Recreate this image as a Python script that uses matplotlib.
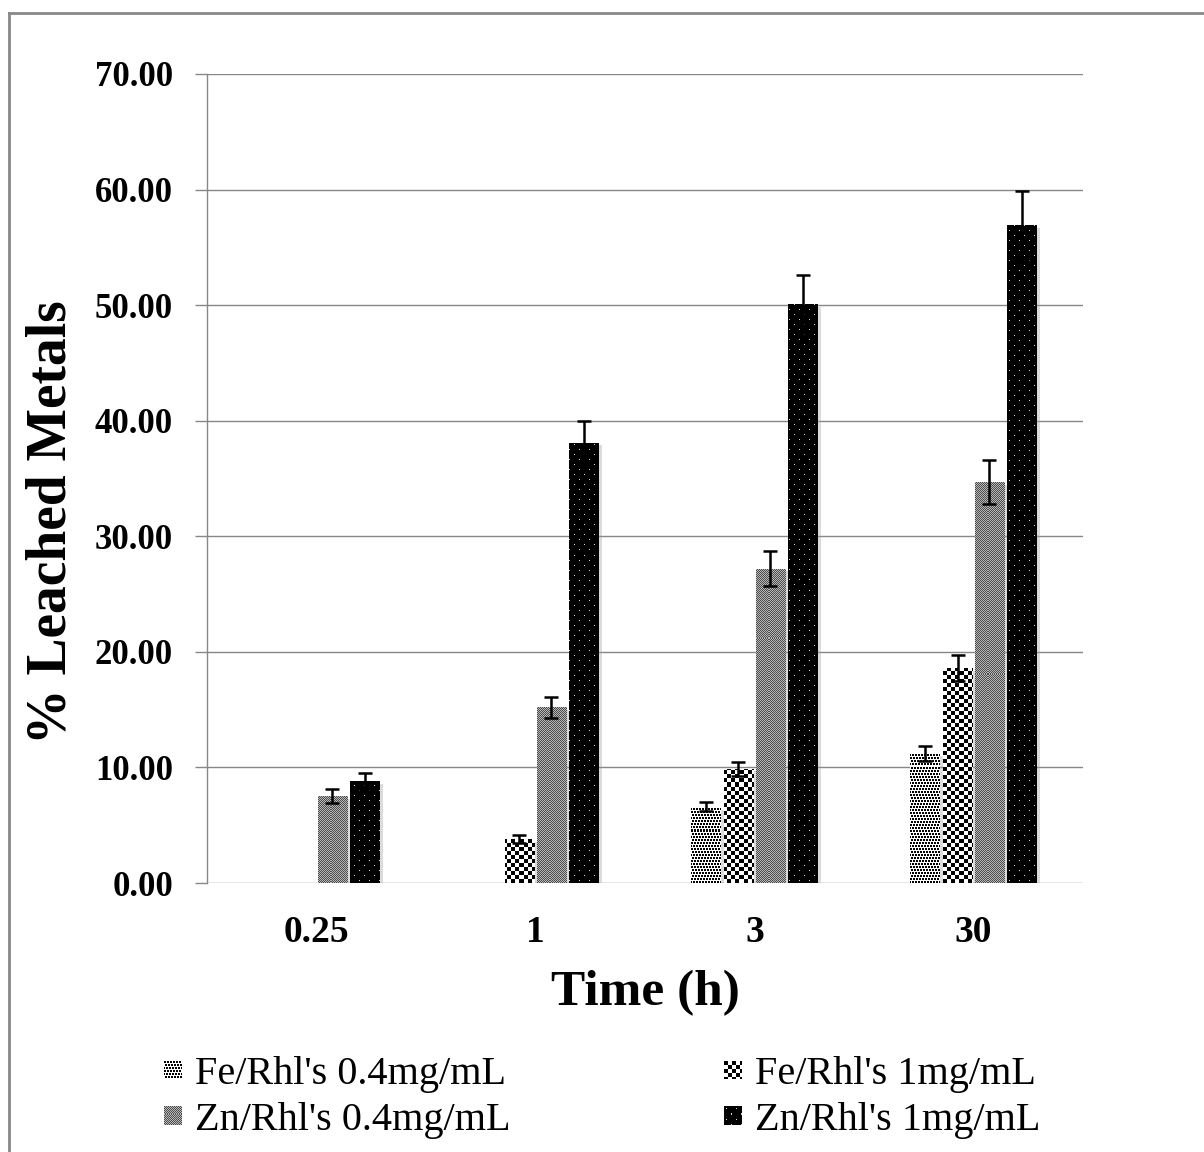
import matplotlib
matplotlib.use('Agg')
import matplotlib.pyplot as plt
import matplotlib.patheffects as pe
from matplotlib.patches import Rectangle
from matplotlib.lines import Line2D
from matplotlib.legend_handler import HandlerBase
import numpy as np

plt.rcParams['font.family'] = ['Liberation Serif', 'DejaVu Serif']

times = ['0.25', '1', '3', '30']
series = ["Fe/Rhl's 0.4mg/mL", "Fe/Rhl's 1mg/mL", "Zn/Rhl's 0.4mg/mL", "Zn/Rhl's 1mg/mL"]
fe_04 = [0.0, 0.0, 6.6, 11.2]
fe_1 = [0.0, 3.8, 9.9, 18.6]
zn_04 = [7.5, 15.2, 27.2, 34.7]
zn_1 = [8.8, 38.1, 50.1, 56.9]
fe_04_err = [0.0, 0.0, 0.4, 0.65]
fe_1_err = [0.0, 0.35, 0.6, 1.1]
zn_04_err = [0.6, 0.9, 1.5, 1.9]
zn_1_err = [0.7, 1.9, 2.5, 3.0]
yticks = [0, 10, 20, 30, 40, 50, 60, 70]

values = [fe_04, fe_1, zn_04, zn_1]
errors = [fe_04_err, fe_1_err, zn_04_err, zn_1_err]
textures = ['dots', 'checker', 'fine', 'stars']


def make_texture(kind, h, w):
    ii, jj = np.indices((h, w))
    if kind == 'dots':
        # 2x2 dots on a 3px grid, rows nudged to look scattered
        shifts = np.array([0, 2, 1, 0, 1, 2])
        jj2 = jj + shifts[(ii // 3) % 6]
        return np.where((ii % 3 < 2) & (jj2 % 3 < 2), 0.0, 1.0)
    if kind == 'checker':
        return np.where(((ii // 4) + (jj // 4)) % 2 == 0, 0.0, 1.0)
    if kind == 'fine':
        return np.where((ii + jj) % 2 == 0, 0.3, 0.72)
    # black with small white dots
    t = np.zeros((h, w))
    t[(ii % 10 == 2) & (jj % 10 == 2)] = 0.85
    t[(ii % 10 == 7) & (jj % 10 == 7)] = 0.85
    return t


class HandlerTexture(HandlerBase):
    # legend key drawn as a tiny pixel grid of the same texture
    def __init__(self, kind, npx=18):
        super().__init__()
        self.kind = kind
        self.npx = npx

    def create_artists(self, legend, orig_handle, xdescent, ydescent, width, height,
                       fontsize, trans):
        tex = make_texture(self.kind, self.npx, self.npx)
        size = min(width, height)
        cell = size / self.npx
        x0 = -xdescent + (width - size) / 2
        y0 = -ydescent + (height - size) / 2
        arts = []
        for r in range(self.npx):
            for c in range(self.npx):
                g = tex[r, c]
                arts.append(Rectangle((x0 + c * cell, y0 + (self.npx - 1 - r) * cell), cell, cell,
                                      facecolor=(g, g, g), edgecolor='none',
                                      antialiased=False, transform=trans))
        return arts


fig = plt.figure(figsize=(12.04, 11.52), dpi=100)
ax_left, ax_bottom, ax_w, ax_h = 0.1719, 0.2335, 0.7276, 0.7023
ax = fig.add_axes([ax_left, ax_bottom, ax_w, ax_h])

# pixel size of the axes, so the fill patterns come out 1:1
px_w = int(round(ax_w * 1204))
px_h = int(round(ax_h * 1152))

x = np.arange(len(times))
width = 0.136
offsets = [-0.221, -0.073, 0.073, 0.221]
xlim = (-0.5, len(times) - 0.5)
ylim = (0, 70)

shadow = [pe.SimplePatchShadow(offset=(2.5, -2), shadow_rgbFace='#9a9a9a', alpha=0.35), pe.Normal()]

for vals, errs, off, tex in zip(values, errors, offsets, textures):
    bars = ax.bar(x + off, vals, width, facecolor='none', edgecolor='none',
                  zorder=2, path_effects=shadow)
    img = make_texture(tex, px_h, px_w)
    for b, v in zip(bars, vals):
        if v <= 0:
            continue
        im = ax.imshow(img, extent=(xlim[0], xlim[1], ylim[0], ylim[1]), origin='lower',
                       cmap='gray', vmin=0, vmax=1, interpolation='nearest',
                       aspect='auto', zorder=2.5)
        im.set_clip_path(b)
    vals_a = np.array(vals)
    errs_a = np.array(errs)
    m = vals_a > 0
    ax.errorbar((x + off)[m], vals_a[m], yerr=errs_a[m], fmt='none', ecolor='black',
                elinewidth=1.8, capsize=5, capthick=1.8, zorder=3)

ax.set_xlim(*xlim)
ax.set_ylim(*ylim)
ax.set_yticks(yticks)
ax.set_yticklabels(['%.2f' % t for t in yticks])
ax.set_xticks(x)
ax.set_xticklabels(times)
ax.yaxis.grid(True, color='#878787', linewidth=1.0)
ax.set_axisbelow(True)
for s in ['top', 'right', 'bottom']:
    ax.spines[s].set_visible(False)
ax.spines['left'].set_color('#878787')
ax.spines['left'].set_linewidth(1.0)
ax.tick_params(axis='y', length=8.5, width=1.0, color='#878787', pad=16,
               labelsize=25)
ax.tick_params(axis='x', length=0, pad=23, labelsize=27)
for lab in ax.get_xticklabels() + ax.get_yticklabels():
    lab.set_fontweight('bold')

ax.set_xlabel('Time (h)', fontsize=37, fontweight='bold')
ax.xaxis.set_label_coords(0.5, -0.108)
ax.set_ylabel('% Leached Metals', fontsize=40, fontweight='bold')
ax.yaxis.set_label_coords(-0.148, 0.446)

# legend proxies, drawn by the texture handler
h_fe04, h_fe1, h_zn04, h_zn1 = [Rectangle((0, 0), 1, 1) for _ in range(4)]
hmap = {h_fe04: HandlerTexture('dots'), h_fe1: HandlerTexture('checker'),
        h_zn04: HandlerTexture('fine'), h_zn1: HandlerTexture('stars')}
fig.legend([h_fe04, h_zn04, h_fe1, h_zn1],
           [series[0], series[2], series[1], series[3]],
           handler_map=hmap,
           ncol=2, loc='upper left', bbox_to_anchor=(164 / 1204, 1 - 1056 / 1152),
           frameon=False, fontsize=29, handlelength=0.45, handleheight=0.45,
           handletextpad=0.32, columnspacing=5.29, labelspacing=0.22,
           borderpad=0, borderaxespad=0)

# outer frame (top and left edges show in the picture)
fig.add_artist(Line2D([9 / 1204, 9 / 1204], [0, 1 - 13 / 1152], transform=fig.transFigure,
                      color='#888888', linewidth=2))
fig.add_artist(Line2D([9 / 1204, 1], [1 - 13 / 1152, 1 - 13 / 1152], transform=fig.transFigure,
                      color='#888888', linewidth=2))

fig.savefig('out.png', dpi=100)
